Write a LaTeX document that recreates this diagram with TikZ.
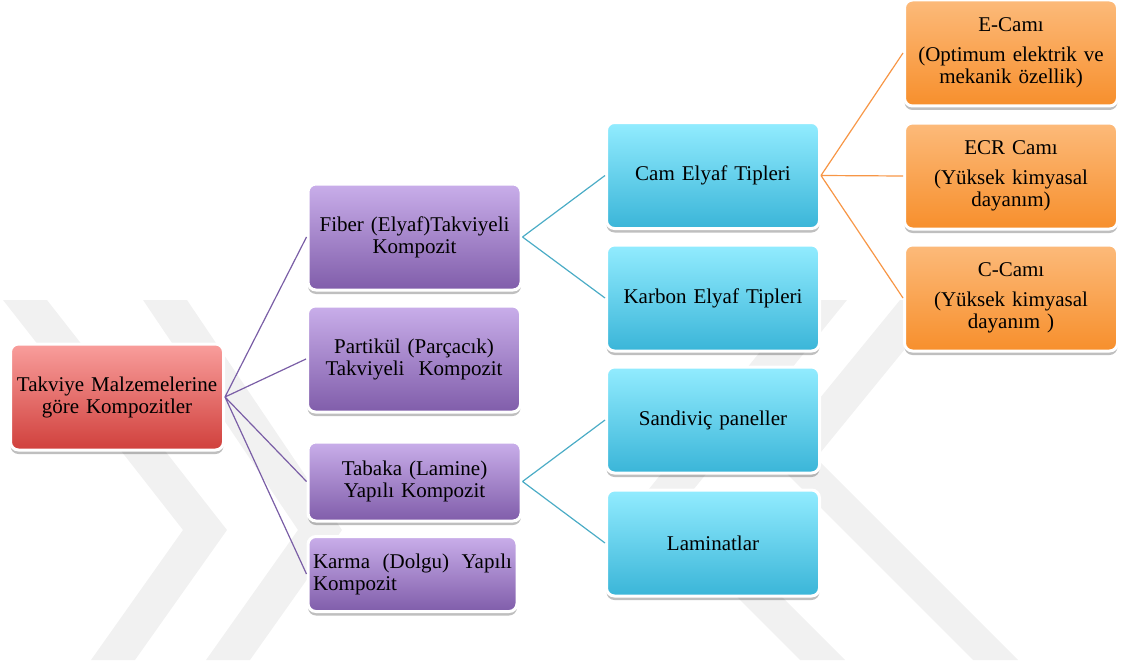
\documentclass[tikz,border=0pt]{standalone}
\usepackage{fontspec}
\setmainfont{Liberation Serif}
\usetikzlibrary{shadows}
\definecolor{redtop}{RGB}{249,158,156}
\definecolor{redbot}{RGB}{208,64,60}
\definecolor{purtop}{RGB}{201,174,234}
\definecolor{purbot}{RGB}{128,93,170}
\definecolor{teatop}{RGB}{146,236,255}
\definecolor{teabot}{RGB}{58,181,216}
\definecolor{orgtop}{RGB}{252,186,122}
\definecolor{orgbot}{RGB}{247,143,44}
\definecolor{purline}{RGB}{122,94,166}
\definecolor{tealine}{RGB}{75,172,198}
\definecolor{orgline}{RGB}{247,150,70}
\definecolor{wmark}{RGB}{241,241,241}
\tikzset{box/.style = {rectangle,rounded corners=8pt,draw=white,line width=3pt,
                       minimum height=106pt,text width=205pt,inner xsep=4pt,inner ysep=2pt,
                       align=center,font=\fontsize{21}{22}\selectfont,
                       drop shadow={shadow xshift=0pt,shadow yshift=-4pt,opacity=0.25,fill=black}},
         rbox/.style = {box,top color=redtop,bottom color=redbot},
         pbox/.style = {box,top color=purtop,bottom color=purbot},
         tbox/.style = {box,top color=teatop,bottom color=teabot},
         obox/.style = {box,top color=orgtop,bottom color=orgbot},
         link/.style = {line width=1.2pt}}
\begin{document}
\begin{tikzpicture}[x=1pt,y=-1pt]
            \useasboundingbox (0,0) rectangle (1123,666);
            % watermark
            \begin{scope}
                \clip (0,300) rectangle (1123,660);
                \fill[wmark] (3,300) -- (47,300) -- (227,530) -- (135,660) -- (91,660) -- (183,530) -- cycle;
                \fill[wmark] (143,300) -- (187,300) -- (342,530) -- (250,660) -- (206,660) -- (298,530) -- cycle;
                \fill[wmark] (802,300) -- (847,300) -- (685,500) -- (845,660) -- (800,660) -- (640,500) -- cycle;
                \fill[wmark] (900,300) -- (945,300) -- (816,458) -- (1018,660) -- (973,660) -- (771,458) -- cycle;
            \end{scope}
            \node[rbox] (K) at (117,397) {Takviye Malzemelerine\\göre Kompozitler};
            \node[pbox] (F) at (414.5,237) {Fiber (Elyaf)Takviyeli\\Kompozit};
            \node[pbox] (P) at (414,359) {Partikül (Parçacık)\\Takviyeli\ \ Kompozit};
            \node[pbox,minimum height=79pt] (T) at (414.5,481.5) {Tabaka (Lamine)\\Yapılı Kompozit};
            \node[pbox,minimum height=75pt,text width=199pt,inner xsep=5pt,align=justify] (D) at (412.5,574)
                {Karma (Dolgu) Yapılı Kompozit};
            \node[tbox] (CE) at (713,175.5) {Cam Elyaf Tipleri};
            \node[tbox] (KE) at (713,298) {Karbon Elyaf Tipleri};
            \node[tbox] (SP) at (713,420) {Sandiviç paneller};
            \node[tbox] (LA) at (713,543) {Laminatlar};
            \node[obox] (EC) at (1011,53) {E-Camı\\[8pt](Optimum elektrik ve\\mekanik özellik)};
            \node[obox] (ECR) at (1011,176) {ECR Camı\\[8pt](Yüksek kimyasal\\dayanım)};
            \node[obox] (CC) at (1011,298) {C-Camı\\[8pt](Yüksek kimyasal\\dayanım )};
            \draw[link,purline] (K.east) -- (F.west) (K.east) -- (P.west) (K.east) -- (T.west) (K.east) -- (D.west);
            \draw[link,tealine] (F.east) -- (CE.west) (F.east) -- (KE.west) (T.east) -- (SP.west) (T.east) -- (LA.west);
            \draw[link,orgline] (CE.east) -- (EC.west) (CE.east) -- (ECR.west) (CE.east) -- (CC.west);
        \end{tikzpicture}
\end{document}
